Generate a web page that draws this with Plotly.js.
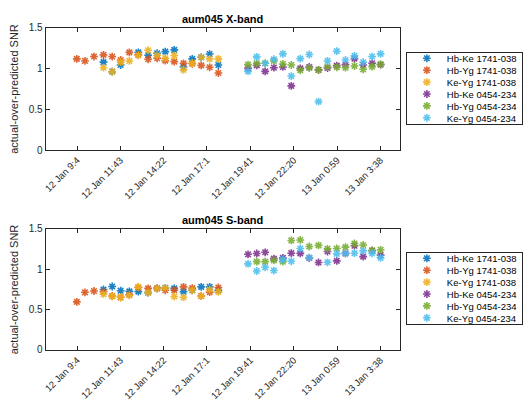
<!DOCTYPE html>
<html><head><meta charset="utf-8">
<script src="https://cdn.plot.ly/plotly-3.0.1.min.js"></script>
<style>html,body{margin:0;padding:0;background:#fff}</style>
</head><body><div id="chart" style="width:523px;height:404px"></div>
<script>
// observation times (source 1741-038 block, then source 0454-234 block)
const times1741 = ['2015-01-12 09:03','2015-01-12 09:33','2015-01-12 10:06','2015-01-12 10:41','2015-01-12 11:13','2015-01-12 11:44','2015-01-12 12:16','2015-01-12 12:49','2015-01-12 13:25','2015-01-12 13:58','2015-01-12 14:28','2015-01-12 15:01','2015-01-12 15:35','2015-01-12 16:07','2015-01-12 16:40','2015-01-12 17:11','2015-01-12 17:43'];
const times0454 = ['2015-01-12 19:32','2015-01-12 20:04','2015-01-12 20:35','2015-01-12 21:07','2015-01-12 21:40','2015-01-12 22:11','2015-01-12 22:44','2015-01-12 23:17','2015-01-12 23:51','2015-01-13 00:24','2015-01-13 00:58','2015-01-13 01:30','2015-01-13 02:03','2015-01-13 02:35','2015-01-13 03:08','2015-01-13 03:39'];

const tickVals = ['2015-01-12 09:04','2015-01-12 11:43','2015-01-12 14:22','2015-01-12 17:01','2015-01-12 19:41','2015-01-12 22:20','2015-01-13 00:59','2015-01-13 03:38'];
const tickText = ['12 Jan 9:4','12 Jan 11:43','12 Jan 14:22','12 Jan 17:1','12 Jan 19:41','12 Jan 22:20','13 Jan 0:59','13 Jan 3:38'];

const baselineNames = ['Hb-Ke 1741-038','Hb-Yg 1741-038','Ke-Yg 1741-038','Hb-Ke 0454-234','Hb-Yg 0454-234','Ke-Yg 0454-234'];

// X-band
const xHbKe1741 = [null,null,null,1.08,0.963,1.045,null,1.20,1.165,1.19,1.21,1.231,1.02,1.12,1.14,1.18,1.045];
const xHbYg1741 = [1.12,1.095,1.149,1.17,1.149,1.107,1.20,1.17,1.116,1.128,1.099,1.087,1.066,1.06,1.041,1.017,0.947];
const xKeYg1741 = [null,null,null,1.012,0.963,1.08,1.095,1.165,1.227,1.165,1.128,1.161,0.985,1.07,1.14,1.12,1.12];
const xHbKe0454 = [1.004,1.041,0.967,1.012,1.021,0.789,1.004,1.021,0.985,1.008,1.037,1.05,1.124,1.045,1.066,1.05];
const xHbYg0454 = [1.05,1.066,1.066,1.095,1.058,1.045,0.98,1.008,0.984,1.021,1.017,1.012,1.033,0.992,1.025,1.054];
const xKeYg0454 = [0.967,1.145,1.066,1.116,1.182,0.909,1.124,1.174,0.595,1.095,1.215,1.107,1.157,1.079,1.149,1.182];

// S-band
const sHbKe1741 = [null,null,null,0.75,0.787,0.735,0.727,0.723,0.711,0.764,0.77,0.764,0.723,0.74,0.783,0.783,0.74];
const sHbYg1741 = [0.597,0.715,0.731,0.723,0.669,0.653,0.685,0.775,0.764,0.764,0.74,0.74,0.783,0.767,0.669,0.717,0.775];
const sKeYg1741 = [null,null,null,0.692,0.665,0.653,0.678,0.781,0.711,0.764,0.77,0.663,0.653,0.74,0.667,0.75,0.721];
const sHbKe0454 = [1.186,1.196,1.211,1.132,1.142,1.20,1.198,1.14,1.085,1.221,1.105,1.198,1.293,1.157,1.231,1.176];
const sHbYg0454 = [null,1.095,1.095,1.11,1.095,1.358,1.364,1.283,1.297,1.254,1.258,1.275,1.32,1.302,1.236,1.242];
const sKeYg0454 = [1.068,0.979,1.025,0.985,1.12,1.10,1.258,1.145,null,1.087,1.192,1.198,1.2,1.229,1.198,1.142];

const colors = ['#0072BD','#D95319','#EDB120','#7E2F8E','#77AC30','#4DBEEE'];
const FONT = 'Liberation Sans, Arial, Helvetica, sans-serif';

const xSeries = [xHbKe1741,xHbYg1741,xKeYg1741,xHbKe0454,xHbYg0454,xKeYg0454];
const sSeries = [sHbKe1741,sHbYg1741,sKeYg1741,sHbKe0454,sHbYg0454,sKeYg0454];

function mk(vals, i, xa, ya, lg) {
  return {
    type:'scatter', mode:'markers', name: baselineNames[i],
    x: i < 3 ? times1741 : times0454, y: vals,
    xaxis: xa, yaxis: ya, legend: lg,
    marker: {symbol:'asterisk-open', size:6.5, color: colors[i], line:{color: colors[i], width:1.6}},
    opacity: 0.88
  };
}
const data = [];
xSeries.forEach((v,i)=>data.push(mk(v,i,'x','y','legend')));
sSeries.forEach((v,i)=>data.push(mk(v,i,'x2','y2','legend2')));

const xCommon = {
  type:'date', range:['2015-01-12 07:08:30','2015-01-13 04:50'],
  tickvals: tickVals, ticktext: tickText, tickangle:-45,
  showline:true, linecolor:'#262626', linewidth:1, mirror:'allticks',
  ticks:'inside', ticklen:4, tickcolor:'#262626',
  tickfont:{family:FONT, size:9.5, color:'#262626'},
  showgrid:false, zeroline:false, domain:[0.08795,0.77055]
};
const yCommon = {
  range:[0,1.5], tickvals:[0,0.5,1,1.5], ticktext:['0','0.5','1','1.5'],
  showline:true, linecolor:'#262626', linewidth:1, mirror:'allticks',
  ticks:'inside', ticklen:4, tickcolor:'#262626',
  tickfont:{family:FONT, size:10, color:'#262626'},
  showgrid:false, zeroline:false,
  title:{text:'actual-over-predicted SNR', font:{family:FONT, size:11, color:'#262626'}, standoff:7}
};
const legCommon = {
  xanchor:'left', yanchor:'top', bgcolor:'#ffffff',
  bordercolor:'#262626', borderwidth:1,
  font:{family:FONT, size:9.5, color:'#000'}, itemwidth:30
};

const layout = {
  width:523, height:404, margin:{l:0,r:0,t:0,b:0},
  paper_bgcolor:'#fff', plot_bgcolor:'#fff', showlegend:true,
  xaxis: Object.assign({}, xCommon, {anchor:'y'}),
  yaxis: Object.assign({}, yCommon, {anchor:'x', domain:[0.6287,0.9307]}),
  xaxis2: Object.assign({}, xCommon, {anchor:'y2'}),
  yaxis2: Object.assign({}, yCommon, {anchor:'x2', domain:[0.1337,0.4332]}),
  legend: Object.assign({}, legCommon, {x:0.782, y:0.8713}),
  legend2: Object.assign({}, legCommon, {x:0.782, y:0.3762}),
  annotations:[
    {text:'<b>aum045 X-band</b>', xref:'paper', yref:'paper', x:0.4292, y:0.9307, yanchor:'bottom', yshift:1, showarrow:false, font:{family:FONT, size:11, color:'#000'}},
    {text:'<b>aum045 S-band</b>', xref:'paper', yref:'paper', x:0.4292, y:0.4332, yanchor:'bottom', yshift:1, showarrow:false, font:{family:FONT, size:11, color:'#000'}}
  ]
};

// compact legend rows (MATLAB-style row spacing)
function compactLegends(gd) {
  ['legend','legend2'].forEach(cls => {
    const lg = gd.querySelector('g.' + cls);
    if (!lg) return;
    const bg = lg.querySelector('rect.bg');
    const traces = lg.querySelectorAll('g.traces');
    if (!bg || !traces.length) return;
    const bgTop = bg.getBoundingClientRect().top;
    const rowGap = 11.9, firstOffset = 5.8, boxH = 72;
    traces.forEach((t, i) => {
      const m = /translate\(\s*([-\d.e]+)[\s,]*([-\d.e]+)?\s*\)/.exec(t.getAttribute('transform') || '');
      const tx = m ? parseFloat(m[1]) : 0;
      const ty = m && m[2] ? parseFloat(m[2]) : 0;
      const pt = t.querySelector('.legendpoints path');
      const r = (pt || t).getBoundingClientRect();
      const cy = (r.top + r.bottom) / 2;
      const target = bgTop + firstOffset + i * rowGap;
      t.setAttribute('transform', 'translate(' + tx + ',' + (ty + target - cy) + ')');
    });
    bg.setAttribute('height', boxH);
  });
}

Plotly.newPlot('chart', data, layout, {displayModeBar:false, staticPlot:true}).then(compactLegends);
</script></body></html>
